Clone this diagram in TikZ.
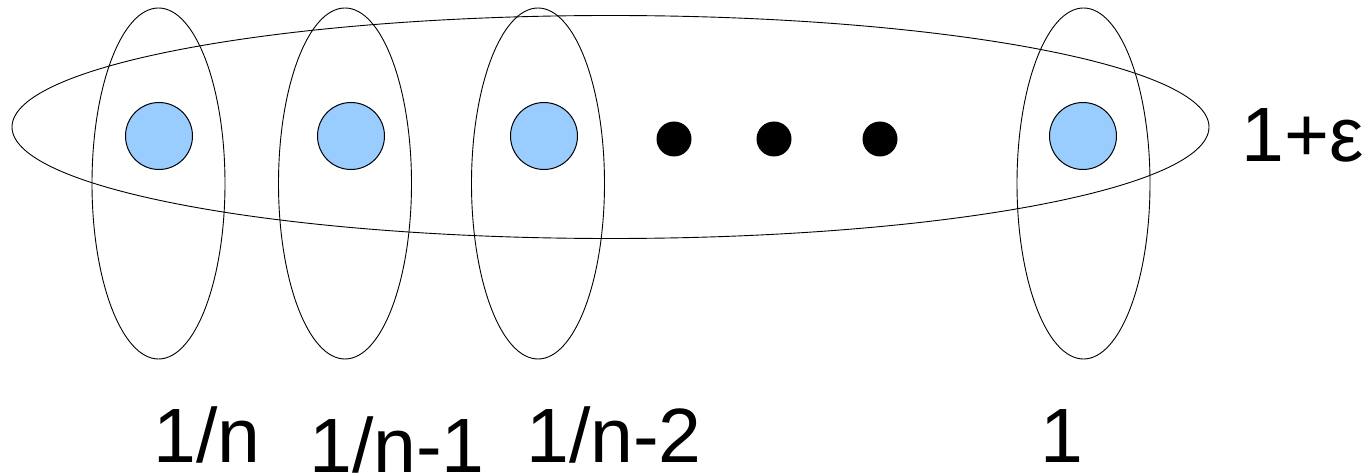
\documentclass[tikz,border=0pt]{standalone}
\usepackage{fontspec}
\setmainfont{Liberation Sans}
\usetikzlibrary{shapes.geometric}
\definecolor{lightblue}{HTML}{99CCFF}
\tikzset{
  group/.style={draw=black, line width=0.9pt, ellipse, inner sep=0pt, outer sep=0pt},
  blob/.style={draw=black, line width=1pt, fill=lightblue, circle, inner sep=0pt, minimum size=67pt},
  dotn/.style={fill=black, circle, inner sep=0pt, minimum size=35pt},
  lab/.style={anchor=base, inner sep=0pt, font=\fontsize{77}{92}\selectfont}
}
\begin{document}
\begin{tikzpicture}[x=1pt,y=-1pt]
\useasboundingbox (0,0) rectangle (1369,473);
\fill[white] (0,0) rectangle (1369,473);
% big horizontal ellipse
\node[group, minimum width=1197pt, minimum height=223pt] (big) at (610.5,127) {};
% vertical ellipses
\node[group, minimum width=133pt, minimum height=351pt] (g1) at (158.5,183.5) {};
\node[group, minimum width=133pt, minimum height=351pt] (g2) at (345,183.5) {};
\node[group, minimum width=133pt, minimum height=351pt] (g3) at (538,183.5) {};
\node[group, minimum width=133pt, minimum height=351pt] (g4) at (1083.5,183.5) {};
% blue circles
\node[blob] (c1) at (159,136) {};
\node[blob] (c2) at (351,136) {};
\node[blob] (c3) at (544,136) {};
\node[blob] (c4) at (1083,136) {};
% dots
\node[dotn] (d1) at (674,139) {};
\node[dotn] (d2) at (774,139) {};
\node[dotn] (d3) at (880,139) {};
% labels
\node[lab] (l1) at (207,462) {1/n};
\node[lab] (l2) at (397,472) {1/n-1};
\node[lab] (l3) at (614,462) {1/n-2};
\node[lab] (l4) at (1062,462) {1};
\node[lab] (l5) at (1303,162) {1+ε};
\end{tikzpicture}
\end{document}
